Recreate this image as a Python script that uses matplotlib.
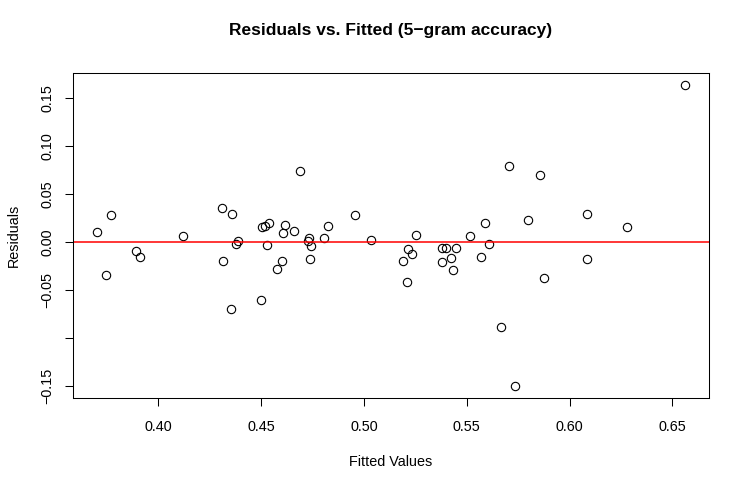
import matplotlib
matplotlib.use("Agg")
import matplotlib.pyplot as plt
import numpy as np

plt.rcParams['font.family'] = ['Liberation Sans', 'DejaVu Sans']

# fitted values / residuals
fitted = [0.3699, 0.3743, 0.3769, 0.3889, 0.3909, 0.4118, 0.4310, 0.4316,
          0.4359, 0.4352, 0.4386, 0.4378, 0.4500, 0.4506, 0.4519, 0.4536,
          0.4526, 0.4577, 0.4599, 0.4604, 0.4616, 0.4659, 0.4687, 0.4730,
          0.4728, 0.4744, 0.4735, 0.4807, 0.4825, 0.4955, 0.5036, 0.5187,
          0.5208, 0.5215, 0.5231, 0.5255, 0.5379, 0.5397, 0.5379, 0.5423,
          0.5434, 0.5449, 0.5515, 0.5571, 0.5588, 0.5606, 0.5665, 0.5707,
          0.5733, 0.5798, 0.5856, 0.5874, 0.6085, 0.6084, 0.6277, 0.6563]
resid = [0.0104, -0.0341, 0.0284, -0.0094, -0.0153, 0.0063, 0.0357, -0.0198,
         0.0289, -0.0695, 0.0010, -0.0018, -0.0607, 0.0156, 0.0170, 0.0195,
         -0.0034, -0.0281, -0.0198, 0.0097, 0.0177, 0.0111, 0.0736, 0.0045,
         0.0010, -0.0042, -0.0177, 0.0039, 0.0167, 0.0278, 0.0021, -0.0195,
         -0.0420, -0.0076, -0.0128, 0.0076, -0.0059, -0.0059, -0.0208, -0.0170,
         -0.0292, -0.0059, 0.0059, -0.0153, 0.0201, -0.0018, -0.0885, 0.0789,
         -0.1500, 0.0232, 0.0701, -0.0372, 0.0295, -0.0177, 0.0159, 0.1635]

xticks = [0.40, 0.45, 0.50, 0.55, 0.60, 0.65]
yticks = [-0.15, -0.10, -0.05, 0.00, 0.05, 0.10, 0.15]
ylabels = ['\u22120.15', '', '\u22120.05', '0.00', '0.05', '0.10', '0.15']

fig = plt.figure(figsize=(7.47, 4.91), dpi=100)
ax = fig.add_axes([73/747, 1-398/491, (709-73)/747, (398-73)/491])

ax.plot(fitted, resid, 'o', mfc='none', mec='black', ms=6, mew=0.8)
ax.axhline(0, color='red', lw=1.1)

# R style 4% padding
xr = max(fitted) - min(fitted)
yr = max(resid) - min(resid)
ax.set_xlim(min(fitted) - 0.04*xr, max(fitted) + 0.04*xr)
ax.set_ylim(min(resid) - 0.04*yr, max(resid) + 0.04*yr)

ax.set_xticks(xticks)
ax.set_xticklabels(['%.2f' % v for v in xticks])
ax.set_yticks(yticks)
ax.set_yticklabels(ylabels, rotation=90, va='center')
ax.tick_params(axis='x', length=6, width=0.75, pad=10, labelsize=10.4)
ax.tick_params(axis='y', length=6, width=0.75, pad=7.5, labelsize=10.4)
for s in ax.spines.values():
    s.set_linewidth(0.75)

ax.set_xlabel('Fitted Values', fontsize=10.4, labelpad=15)
ax.set_ylabel('Residuals', fontsize=10.4, labelpad=14)
ax.set_title('Residuals vs. Fitted (5\u2212gram accuracy)', fontsize=12.5,
             fontweight='bold', pad=27)

fig.savefig('out.png', dpi=100)
